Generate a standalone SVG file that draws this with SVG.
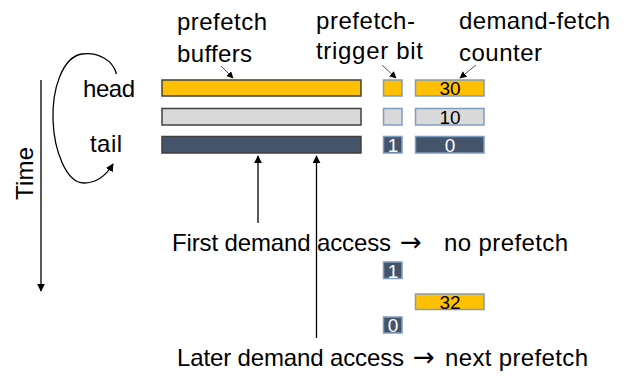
<svg xmlns="http://www.w3.org/2000/svg" width="628" height="376" viewBox="0 0 628 376">
<defs>
<style>
text{font-family:"Liberation Sans",Arial,sans-serif;fill:#000}
.lbl{font-size:24px}
.arr{font-family:"DejaVu Sans",sans-serif;font-size:26px}
.num{font-size:19px;text-anchor:middle}
.w{fill:#fff}
.bar{stroke:#404040;stroke-width:1.5}
.box{stroke:#7F9DC0;stroke-width:1.5}
.or{fill:#FFC000}
.gr{fill:#D9D9D9}
.dk{fill:#44546A}
.ln{fill:none;stroke:#000;stroke-width:1.3}
.thin{fill:none;stroke:#404040;stroke-width:0.9}
</style>
<marker id="ah" viewBox="0 0 10 10" refX="9" refY="5" markerWidth="8" markerHeight="8" markerUnits="userSpaceOnUse" orient="auto">
<path d="M0,0 L10,5 L0,10 z" fill="#000"/>
</marker>
<marker id="ahs" viewBox="0 0 10 10" refX="9" refY="5" markerWidth="7" markerHeight="7" markerUnits="userSpaceOnUse" orient="auto">
<path d="M0,0 L10,5 L0,10 z" fill="#000"/>
</marker>
</defs>
<rect width="628" height="376" fill="#fff"/>

<g id="labels">
<text class="lbl" x="177" y="30" textLength="90">prefetch</text>
<text class="lbl" x="177" y="62" textLength="75">buffers</text>
<text class="lbl" x="316" y="29" textLength="99">prefetch-</text>
<text class="lbl" x="316" y="59" textLength="107">trigger bit</text>
<text class="lbl" x="459" y="29" textLength="151">demand-fetch</text>
<text class="lbl" x="459" y="61" textLength="83">counter</text>
<text class="lbl" x="83" y="97" textLength="52">head</text>
<text class="lbl" x="90" y="152" textLength="32">tail</text>
<text class="lbl" transform="translate(33,200) rotate(-90)" textLength="53">Time</text>
</g>

<g id="buffers">
<rect class="bar or" x="162" y="80" width="199" height="16"/>
<rect class="bar gr" x="162" y="108.5" width="199" height="16.5"/>
<rect class="bar dk" x="162" y="136.5" width="199" height="16.5"/>
</g>

<g id="trigger-bits">
<rect class="box or" x="383.5" y="80" width="18.5" height="16"/>
<rect class="box gr" x="383.5" y="108.5" width="18.5" height="16.5"/>
<rect class="box dk" x="383.5" y="136.5" width="18.5" height="16.5"/>
<text class="num w" x="393" y="151.5">1</text>
</g>

<g id="counters">
<rect class="box or" x="415.5" y="80" width="68.5" height="16"/>
<text class="num" x="450" y="95">30</text>
<rect class="box gr" x="415.5" y="108.5" width="68.5" height="16.5"/>
<text class="num" x="450" y="123.5">10</text>
<rect class="box dk" x="415.5" y="136.5" width="68.5" height="16.5"/>
<text class="num w" x="450" y="151.5">0</text>
</g>

<g id="first-access">
<text class="lbl" y="251"><tspan x="172" textLength="219">First demand access</tspan><tspan class="arr" x="400">→</tspan><tspan x="444" textLength="124">no prefetch</tspan></text>
<rect class="box dk" x="383.5" y="262" width="18.5" height="16.5"/>
<text class="num w" x="393" y="277.5">1</text>
</g>

<g id="later-access">
<rect class="box or" x="415.5" y="294" width="68.5" height="15.5"/>
<text class="num" x="450" y="309">32</text>
<rect class="box dk" x="383.5" y="317" width="18.5" height="16"/>
<text class="num w" x="393" y="332">0</text>
<text class="lbl" y="366"><tspan x="177" textLength="227">Later demand access</tspan><tspan class="arr" x="413">→</tspan><tspan x="445" textLength="143">next prefetch</tspan></text>
</g>

<g id="connectors">
<line class="thin" x1="221" y1="66" x2="233" y2="78" marker-end="url(#ahs)"/>
<line class="thin" x1="382" y1="65" x2="396" y2="78" marker-end="url(#ahs)"/>
<line class="thin" x1="476" y1="65" x2="460" y2="78" marker-end="url(#ahs)"/>
<line class="ln" x1="258" y1="223" x2="258" y2="156" marker-end="url(#ah)"/>
<line class="ln" x1="316.5" y1="338" x2="316.5" y2="156" marker-end="url(#ah)"/>
<line class="ln" x1="41" y1="80" x2="41" y2="291" marker-end="url(#ah)"/>
<path class="ln" d="M116.5,74 C113,60 98,52 82,54 C62,57 52,90 53,120 C54,150 66,183 84,183 C98,183 107,174 113,164" marker-end="url(#ah)"/>
</g>
</svg>
